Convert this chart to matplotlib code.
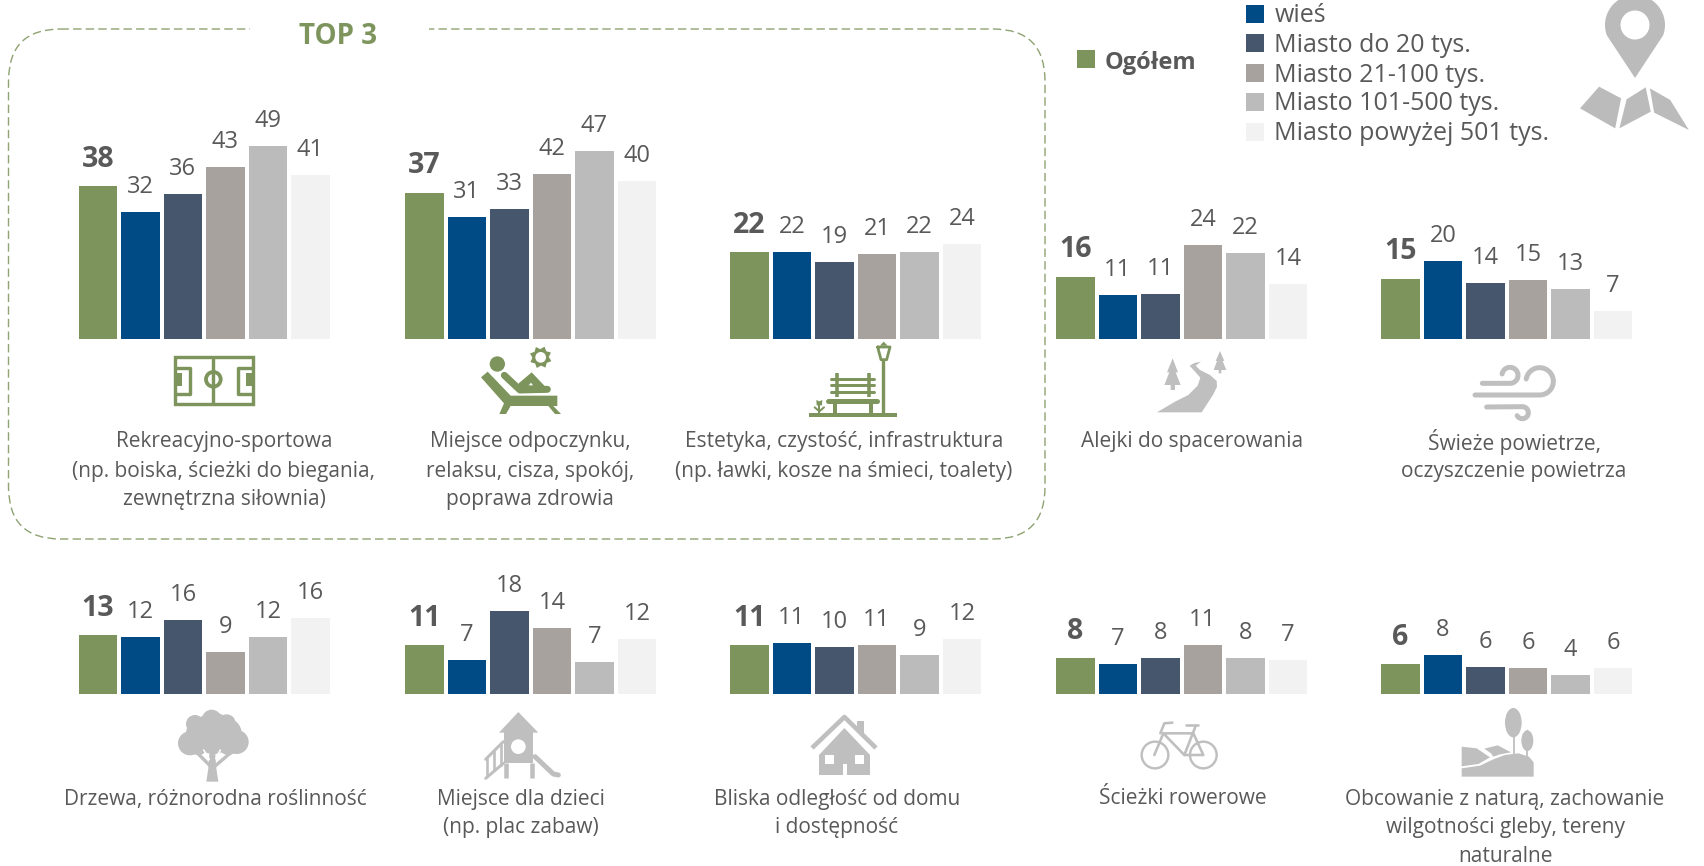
import numpy as np
import matplotlib
matplotlib.use("Agg")
import matplotlib.pyplot as plt
from matplotlib.patches import Polygon, Circle, Ellipse, Rectangle, FancyBboxPatch

plt.rcParams['font.family'] = ['Open Sans', 'DejaVu Sans']

# ---------- data ----------
categories = [
    "Rekreacyjno-sportowa\n(np. boiska, ścieżki do biegania,\nzewnętrzna siłownia)",
    "Miejsce odpoczynku,\nrelaksu, cisza, spokój,\npoprawa zdrowia",
    "Estetyka, czystość, infrastruktura\n(np. ławki, kosze na śmieci, toalety)",
    "Alejki do spacerowania",
    "Świeże powietrze,\noczyszczenie powietrza",
    "Drzewa, różnorodna roślinność",
    "Miejsce dla dzieci\n(np. plac zabaw)",
    "Bliska odległość od domu\ni dostępność",
    "Ścieżki rowerowe",
    "Obcowanie z naturą, zachowanie\nwilgotności gleby, tereny\nnaturalne",
]
series_names = ["Ogółem", "wieś", "Miasto do 20 tys.", "Miasto 21-100 tys.",
                "Miasto 101-500 tys.", "Miasto powyżej 501 tys."]
# bar heights
ogolem   = [38.7, 37.0, 22.0, 15.7, 15.3, 12.7, 10.5, 10.5, 7.7, 6.4]
wies     = [32.2, 30.8, 22.1, 11.1, 19.7, 12.3, 7.3, 11.1, 6.6, 8.4]
do_20    = [36.6, 32.9, 19.4, 11.4, 14.1, 16.1, 17.9, 10.1, 7.7, 5.8]
do_100   = [43.5, 41.8, 21.5, 23.9, 15.0, 9.0, 14.2, 10.5, 10.7, 5.7]
do_500   = [48.9, 47.6, 21.9, 21.8, 12.7, 12.4, 6.9, 8.5, 7.9, 4.1]
pow_501  = [41.5, 40.1, 24.1, 13.9, 7.1, 16.4, 12.0, 12.0, 7.3, 5.6]
# printed labels
lab_ogolem  = [38, 37, 22, 16, 15, 13, 11, 11, 8, 6]
lab_wies    = [32, 31, 22, 11, 20, 12, 7, 11, 7, 8]
lab_do_20   = [36, 33, 19, 11, 14, 16, 18, 10, 8, 6]
lab_do_100  = [43, 42, 21, 24, 15, 9, 14, 11, 11, 6]
lab_do_500  = [49, 47, 22, 22, 13, 12, 7, 9, 8, 4]
lab_pow_501 = [41, 40, 24, 14, 7, 16, 12, 12, 7, 6]

series = [ogolem, wies, do_20, do_100, do_500, pow_501]
labels = [lab_ogolem, lab_wies, lab_do_20, lab_do_100, lab_do_500, lab_pow_501]

# ---------- style ----------
GREEN, BLUE, SLATE, WARM, LIGHT, PALE = "#7D955C", "#004A86", "#46566C", "#A8A29E", "#BBBBBB", "#F2F2F2"
colors = [GREEN, BLUE, SLATE, WARM, LIGHT, PALE]
TEXT = "#595959"
ICON = "#BFBFBF"
W, H = 1704, 866
PX = 0.72
panel_x = [78.5, 405, 730, 1056, 1381] * 2
baseline = [339] * 5 + [694] * 5
scale = [3.95] * 5 + [4.62] * 5
label_x = [224, 530, 844, 1192, 1514, 215.5, 521, 837, 1183, 1505]
label_y = [442] * 5 + [799] * 5
LINE = 29
PITCH, BAR_W = 42.5, 38.7

fig = plt.figure(figsize=(W / 100, H / 100), dpi=100, facecolor="white")
ov = fig.add_axes([0, 0, 1, 1], zorder=5)
ov.set_xlim(0, W); ov.set_ylim(H, 0); ov.axis("off"); ov.patch.set_alpha(0)

# ---------- bars ----------
for p in range(10):
    h_px = 230
    ax = fig.add_axes([panel_x[p] / W, 1 - baseline[p] / H,
                       5.913 * PITCH / W, h_px / H], zorder=2)
    ax.axis("off")
    ax.set_xlim(-0.4565, 5.4565)
    ax.set_ylim(0, h_px / scale[p])
    for s in range(6):
        v = series[s][p]
        ax.bar(s, v, width=BAR_W / PITCH, color=colors[s], edgecolor="none")
        bold = s == 0
        ax.annotate(str(labels[s][p]), (s, v), xytext=(0, (27 if bold else 25) * PX),
                    textcoords="offset points", ha="center", va="center",
                    color=TEXT, fontsize=20.5 if bold else 17,
                    fontweight="bold" if bold else "normal", annotation_clip=False)
    for k, line_txt in enumerate(categories[p].split("\n")):
        ov.text(label_x[p], label_y[p] + k * LINE, line_txt, ha="center", va="center",
                fontsize=15, color=TEXT)

# ---------- TOP 3 frame ----------
R = 52
box = FancyBboxPatch((8.5 + R, 29 + R), 1045 - 8.5 - 2 * R, 539 - 29 - 2 * R,
                     boxstyle=f"round,pad={R},rounding_size={R}", fill=False,
                     ec="#8FA373", lw=1.4 * PX, ls=(0, (6, 3)))
ov.add_patch(box)
ov.add_patch(Rectangle((250, 20), 179, 20, fc="white", ec="none", zorder=3))
ov.text(338, 36, "TOP 3", color=GREEN, fontsize=20, fontweight="bold",
        ha="center", va="center", zorder=4)

# ---------- legend ----------
ov.add_patch(Rectangle((1077, 50), 17.5, 18, fc=GREEN, ec="none"))
ov.text(1105, 63, series_names[0], fontsize=17, fontweight="bold", color=TEXT,
        ha="left", va="center")
for i, yc in enumerate([14, 43, 73, 102, 132]):
    ov.add_patch(Rectangle((1246, yc - 9), 17.5, 18, fc=colors[i + 1], ec="none"))
    ov.text(1274.5, yc + 2, series_names[i + 1], fontsize=18, color=TEXT, ha="left", va="center")


# ---------- icon helpers (decoration only) ----------
def poly(pts, o=(0, 0), k=1 / 3, c=ICON, z=3):
    a = np.array(pts, float) * k + np.array(o)
    ov.add_patch(Polygon(a, closed=True, fc=c, ec="none", zorder=z))

def line(pts, lw, o=(0, 0), k=1 / 3, c=ICON, cap="round", z=3):
    a = np.array(pts, float) * k + np.array(o)
    ov.plot(a[:, 0], a[:, 1], color=c, lw=lw * PX, solid_capstyle=cap, solid_joinstyle="round", zorder=z)

def circ(x, y, r, o=(0, 0), k=1 / 3, c=ICON, z=3):
    ov.add_patch(Circle((x * k + o[0], y * k + o[1]), r * k, fc=c, ec="none", zorder=z))

def ring(x, y, r, lw, o=(0, 0), k=1 / 3, c=ICON, z=3):
    ov.add_patch(Circle((x * k + o[0], y * k + o[1]), r * k, fc="none", ec=c, lw=lw * PX, zorder=z))

def arc(cx, cy, r, a0, a1):
    t = np.radians(np.linspace(a0, a1, 40))
    return np.c_[cx + r * np.cos(t), cy + r * np.sin(t)]

# field
o = (165, 345)
ov.add_patch(Rectangle((174.5, 356.5), 78, 47, fc="none", ec=GREEN, lw=3.4 * PX, zorder=3))
line([(145, 35), (145, 175)], 3.4, o, c=GREEN, cap="butt")
ring(145, 103, 22, 3.8, o, c=GREEN)
line([(28, 68), (74, 68), (74, 146), (28, 146)], 3.4, o, c=GREEN, cap="butt")
poly([(28, 85), (50, 85), (50, 122), (28, 122)], o, c=GREEN)
line([(264, 68), (218, 68), (218, 146), (264, 146)], 3.4, o, c=GREEN, cap="butt")
poly([(264, 85), (242, 85), (242, 122), (264, 122)], o, c=GREEN)

# lounger
o = (470, 340)
circ(82, 72, 23, o, c=GREEN)
poly([(33, 112), (53, 95), (122, 167), (262, 167), (262, 198), (250, 198), (273, 222), (255, 222),
      (235, 198), (122, 198), (108, 222), (88, 222), (102, 190)], o, c=GREEN)
line([(103, 106), (150, 150), (232, 148)], 7, o, c=GREEN)
poly([(146, 130), (185, 97), (226, 140), (150, 150)], o, c=GREEN)
poly([(176, 136), (183, 128), (189, 136)], o, c="white")
for a in range(0, 360, 45):
    t = np.radians(a + 20)
    poly([(212 + 34 * np.cos(t), 52 + 34 * np.sin(t)),
          (212 + 24 * np.cos(t + .45), 52 + 24 * np.sin(t + .45)),
          (212 + 24 * np.cos(t - .45), 52 + 24 * np.sin(t - .45))], o, c=GREEN)
ring(212, 52, 20, 2.6, o, c=GREEN)

# bench and lamp
o = (700, 200)
line([(326, 645), (590, 645)], 4, o, c=GREEN, cap="butt")
line([(550, 480), (550, 640)], 3.4, o, c=GREEN, cap="butt")
line([(533, 441), (570, 441), (560, 479), (543, 479), (533, 441)], 2.8, o, c=GREEN)
poly([(540, 437), (551, 425), (563, 437)], o, c=GREEN)
line([(385, 602), (532, 602)], 5, o, c=GREEN)
for x in (404, 512):
    line([(x, 610), (x, 640)], 4, o, c=GREEN, cap="butt")
for x in (410, 506):
    line([(x, 520), (x, 590)], 3.6, o, c=GREEN, cap="butt")
for y in (537, 555, 575):
    line([(393, y), (523, y)], 3, o, c=GREEN)
line([(358, 612), (358, 640)], 2, o, c=GREEN, cap="butt")
line([(344, 622), (358, 634), (372, 622)], 2, o, c=GREEN)
poly([(349, 600), (358, 604), (367, 600), (366, 616), (350, 616)], o, c=GREEN)

# road and trees
o = (1145, 345)
poly([(36, 202), (90, 170), (130, 150), (158, 122), (166, 98), (150, 80), (134, 62), (148, 54), (168, 50),
      (152, 62), (165, 75), (195, 90), (215, 108), (216, 125), (205, 148), (170, 202)], o)
poly([(83, 40), (99, 82), (92, 82), (107, 120), (90, 120), (90, 135), (77, 135), (77, 120), (58, 120), (73, 82), (66, 82)], o)
poly([(225, 18), (238, 48), (233, 48), (244, 75), (229, 75), (229, 85), (221, 85), (221, 75), (206, 75), (216, 48), (212, 48)], o)

# wind
o = (1465, 350)
line(np.r_[[(52, 100)], arc(135, 76, 24, 90, -170)], 5, o)
line(np.r_[[(30, 135)], arc(224, 94, 41, 90, -170)], 5, o)
line(np.r_[[(65, 171)], arc(172, 188, 18, -90, 150)], 5, o)

# tree
o = (165, 700)
for x, y, r in [(90, 72, 27), (140, 58, 29), (185, 70, 27), (75, 130, 36), (215, 126, 36),
                (145, 100, 62), (105, 100, 42), (185, 100, 45), (100, 135, 30), (190, 135, 30)]:
    circ(x, y, r, o)
poly([(124, 245), (160, 245), (154, 205), (150, 150), (134, 150), (130, 205)], o)
line([(138, 200), (98, 160)], 3.4, o); line([(148, 200), (195, 160)], 3.4, o)
line([(116, 150), (133, 178)], 1.6, o, c="white"); line([(166, 150), (152, 176)], 1.6, o, c="white")

# playground
o = (475, 700)
poly([(72, 98), (130, 36), (190, 98)], o)
poly([(88, 95), (175, 95), (175, 190), (88, 190)], o)
circ(130, 140, 22, o, c="white")
line([(92, 188), (92, 235)], 4.5, o, cap="butt"); line([(171, 188), (171, 235)], 4.5, o, cap="butt")
line([(180, 170), (235, 222), (250, 225)], 5, o)
line([(32, 178), (85, 125)], 3, o); line([(32, 235), (85, 190)], 3, o)
for x in (35, 57, 78):
    line([(x, 175 - (x - 35)), (x, 232 - (x - 35) * .8)], 2.6, o, cap="butt")

# house
line([(812, 748), (844.4, 717), (876, 748)], 4.6, k=1, cap="butt")
poly([(857, 721), (864, 721), (864, 735), (857, 729)], k=1)
poly([(819, 755), (844.4, 728), (870, 755), (870, 775), (819, 775)], k=1)
poly([(825, 755), (833.5, 755), (833.5, 764), (825, 764)], k=1, c="white")
poly([(855, 755), (864, 755), (864, 764), (855, 764)], k=1, c="white")
poly([(842.5, 764), (847, 764), (847, 775), (842.5, 775)], k=1, c="white")

# bicycle
o = (1125, 700)
ring(90, 165, 40, 2.4, o); ring(235, 165, 40, 2.4, o)
for seg in ([(88, 165), (115, 100), (205, 100), (235, 165), (178, 165), (115, 100)],
            [(212, 78), (178, 165)], [(182, 75), (220, 75)], [(106, 100), (118, 70), (142, 68)]):
    line(seg, 2.6, o)

# nature
o = (1125, 700)
poly([(1010, 230), (1010, 205), (1065, 197), (1105, 178), (1140, 165), (1180, 160), (1212, 170), (1226, 187), (1226, 230)], o)
poly([(1010, 140), (1055, 145), (1095, 172), (1060, 192), (1010, 199)], o)
poly([(1078, 146), (1118, 136), (1158, 157), (1125, 163), (1105, 170), (1098, 160)], o)
ov.add_patch(Ellipse((1125 + 1165 / 3, 700 + 68 / 3), 50 / 3, 88 / 3, fc=ICON, ec="none", zorder=3))
poly([(1150, 45), (1165, 24), (1180, 45)], o)
ov.add_patch(Ellipse((1125 + 1207 / 3, 700 + 122 / 3), 36 / 3, 62 / 3, fc=ICON, ec="none", zorder=3))
poly([(1196, 105), (1207, 88), (1218, 105)], o)
line([(1167, 100), (1167, 165)], 1.8, o, cap="butt"); line([(1207, 140), (1207, 180)], 1.8, o, cap="butt")

# map and pin
a = arc(1635, 25, 30, 160, 380)
poly(np.r_[a, [(1635, 78)]], k=1, c=LIGHT)
circ(1635, 25, 14.5, k=1, c="white")
m = lambda pts: [(x / 2.361 + 1040, y / 3) for x, y in pts]
poly(m([(1275, 325), (1320, 260), (1372, 295), (1358, 385)]), k=1, c=LIGHT)
poly(m([(1385, 298), (1430, 262), (1442, 335), (1368, 385)]), k=1, c=LIGHT)
poly(m([(1440, 265), (1488, 300), (1532, 390), (1450, 338)]), k=1, c=LIGHT)

fig.savefig("out.png", dpi=100, facecolor="white")
